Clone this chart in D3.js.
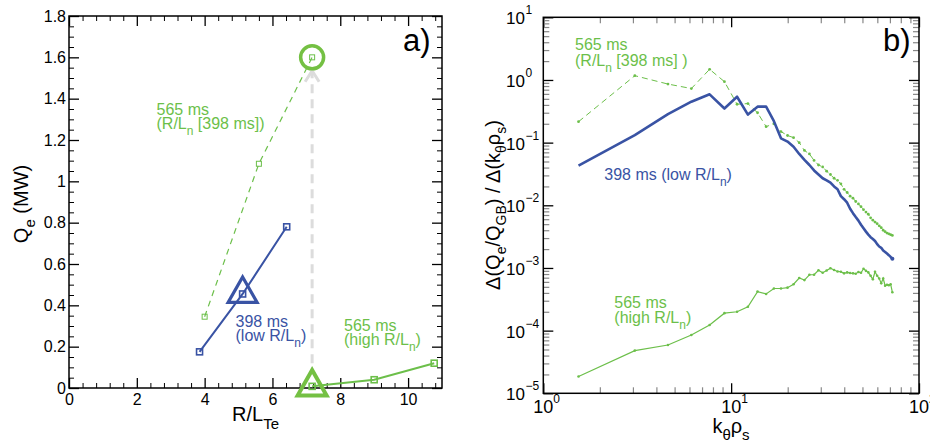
<!DOCTYPE html>
<html><head><meta charset="utf-8">
<script src="https://cdn.jsdelivr.net/npm/d3@7"></script>
<style>
body{margin:0;background:#fff;}
svg{display:block;font-family:"Liberation Sans",Arial,Helvetica,sans-serif;}
</style>
</head><body><svg id="c" width="930" height="444"></svg>
<script>
// ---------------- data: panel a ----------------
const rltX398 = [3.85, 5.12, 6.42];
const qe398 = [0.175, 0.455, 0.78];
const rltX565ln398 = [4.0, 5.6, 7.17];
const qe565ln398 = [0.345, 1.085, 1.60];
const rltX565 = [7.17, 9.0, 10.77];
const qe565 = [0.008, 0.04, 0.12];
const triangle398 = [5.12, 0.46];
const triangle565 = [7.17, 0.01];
const circle565 = [7.17, 1.60];
const arrowX = 7.17;
const arrowY = [0.12, 1.535];
const xTicksA = [0, 2, 4, 6, 8, 10];
const xTickLabelsA = ["0", "2", "4", "6", "8", "10"];
const yTicksA = [0, 0.2, 0.4, 0.6, 0.8, 1.0, 1.2, 1.4, 1.6, 1.8];
const yTickLabelsA = ["0", "0.2", "0.4", "0.6", "0.8", "1", "1.2", "1.4", "1.6", "1.8"];

// ---------------- data: panel b ----------------
const kRho = [1.54, 3.07, 4.61, 6.14, 7.68, 9.21, 10.75, 12.28, 13.82, 15.35,
  16.89, 18.42, 19.96, 21.49, 23.03, 24.56, 26.10, 27.63, 29.17, 30.70,
  32.24, 33.77, 35.31, 36.84, 38.38, 39.91, 41.45, 42.98, 44.52, 46.05,
  47.59, 49.12, 50.66, 52.19, 53.73, 55.26, 56.80, 58.33, 59.87, 61.40,
  62.94, 64.47, 66.01, 67.54, 69.08, 70.61, 72.15];
const spec398 = [0.043, 0.132, 0.285, 0.45, 0.59, 0.35, 0.54, 0.28, 0.375, 0.375,
  0.22, 0.117, 0.104, 0.086, 0.066, 0.053, 0.044, 0.036, 0.031, 0.027,
  0.025, 0.023, 0.020, 0.018, 0.014, 0.0125, 0.011, 0.0088, 0.0075, 0.0065,
  0.0057, 0.0049, 0.0043, 0.0038, 0.0034, 0.0031, 0.0029, 0.0027, 0.0024, 0.0022,
  0.0021, 0.0019, 0.0018, 0.0017, 0.0016, 0.0015, 0.0014];
const spec565ln398 = [0.216, 1.17, 0.86, 0.73, 1.48, 0.94, 0.41, 0.42, 0.30, 0.18,
  0.20, 0.15, 0.13, 0.12, 0.10, 0.075, 0.066, 0.052, 0.044, 0.041,
  0.035, 0.031, 0.027, 0.025, 0.022, 0.018, 0.016, 0.014, 0.013, 0.0115,
  0.0105, 0.0095, 0.0085, 0.0078, 0.0072, 0.0063, 0.0058, 0.0054, 0.0051, 0.0047,
  0.0044, 0.0040, 0.0038, 0.0036, 0.0035, 0.0034, 0.0033];
const spec565 = [1.85e-5, 4.8e-5, 5.9e-5, 8.5e-5, 1.23e-4, 1.9e-4, 2.0e-4, 2.4e-4, 4.2e-4, 3.85e-4,
  4.7e-4, 4.7e-4, 4.85e-4, 5.5e-4, 6.9e-4, 6.4e-4, 7.8e-4, 7.8e-4, 9.2e-4, 8.4e-4,
  9.1e-4, 9.9e-4, 9.3e-4, 8.8e-4, 8.7e-4, 8.2e-4, 8.5e-4, 8.3e-4, 8.2e-4, 8.1e-4,
  8.6e-4, 8.4e-4, 9.7e-4, 9.0e-4, 8.5e-4, 7.5e-4, 6.6e-4, 8.7e-4, 7.5e-4, 6.8e-4,
  5.7e-4, 6.8e-4, 5.2e-4, 5.4e-4, 5.3e-4, 5.5e-4, 4.1e-4];
const xDecadesB = [1, 10, 100];
const xExpLabelsB = ["0", "1", "2"];
const yDecadesB = [1e-5, 1e-4, 1e-3, 1e-2, 1e-1, 1, 10];
const yExpLabelsB = ["\u22125", "\u22124", "\u22123", "\u22122", "\u22121", "0", "1"];

// ---------------- style ----------------
const BLUE = "#3953a4";
const GREEN = "#6cbf4a";
const GREEN_BIG = "#74c043";
const GRAY = "#dcdcdc";

const svg = d3.select("#c");

function rich(sel, parts, size, subSize, shift) {
  let cur = 0;
  parts.forEach(p => {
    const target = p.sub ? shift : (p.sup ? -shift : 0);
    sel.append("tspan")
      .attr("dy", target - cur)
      .attr("font-size", (p.sub || p.sup) ? subSize : size)
      .text(p.t);
    cur = target;
  });
  return sel;
}

// ================= Panel a =================
const xa = d3.scaleLinear().domain([0, 11]).range([69, 442]);
const ya = d3.scaleLinear().domain([0, 1.8]).range([388, 16]);
const ga = svg.append("g");

const minorXA = d3.range(0, 11.001, 0.4).map(v => +v.toFixed(2)).filter(v => Math.abs(v / 2 - Math.round(v / 2)) > 1e-6);
const minorYA = d3.range(0, 1.8001, 0.05).map(v => +v.toFixed(3)).filter(v => Math.abs(v / 0.2 - Math.round(v / 0.2)) > 1e-6);

function styleAxis(g, color, width) {
  g.select(".domain").remove();
  g.selectAll(".tick line").attr("stroke", color).attr("stroke-width", width);
  g.selectAll(".tick text").attr("fill", "#000").attr("font-family", "Liberation Sans, Arial, sans-serif");
}
// bottom
ga.append("g").attr("transform", "translate(0,388)")
  .call(d3.axisBottom(xa).tickValues(xTicksA).tickSize(-10).tickPadding(6).tickFormat((d, i) => xTickLabelsA[i]))
  .call(g => { styleAxis(g, "#000", 1.3); g.selectAll("text").attr("font-size", 16); });
ga.append("g").attr("transform", "translate(0,388)")
  .call(d3.axisBottom(xa).tickValues(minorXA).tickSize(-5).tickFormat(""))
  .call(g => styleAxis(g, "#000", 1));
// top
ga.append("g").attr("transform", "translate(0,16)")
  .call(d3.axisTop(xa).tickValues(xTicksA).tickSize(-10).tickFormat(""))
  .call(g => styleAxis(g, "#000", 1.3));
ga.append("g").attr("transform", "translate(0,16)")
  .call(d3.axisTop(xa).tickValues(minorXA).tickSize(-5).tickFormat(""))
  .call(g => styleAxis(g, "#000", 1));
// left
ga.append("g").attr("transform", "translate(69,0)")
  .call(d3.axisLeft(ya).tickValues(yTicksA).tickSize(-10).tickPadding(3).tickFormat((d, i) => yTickLabelsA[i]))
  .call(g => { styleAxis(g, "#000", 1.3); g.selectAll("text").attr("font-size", 16); });
ga.append("g").attr("transform", "translate(69,0)")
  .call(d3.axisLeft(ya).tickValues(minorYA).tickSize(-5).tickFormat(""))
  .call(g => styleAxis(g, "#000", 1));
// right
ga.append("g").attr("transform", "translate(442,0)")
  .call(d3.axisRight(ya).tickValues(yTicksA).tickSize(-10).tickFormat(""))
  .call(g => styleAxis(g, "#000", 1.3));
ga.append("g").attr("transform", "translate(442,0)")
  .call(d3.axisRight(ya).tickValues(minorYA).tickSize(-5).tickFormat(""))
  .call(g => styleAxis(g, "#000", 1));
ga.append("rect").attr("x", 69).attr("y", 16).attr("width", 373).attr("height", 372)
  .attr("fill", "none").attr("stroke", "#000").attr("stroke-width", 1.5);

// grey arrow
ga.append("line").attr("x1", xa(arrowX)).attr("x2", xa(arrowX))
  .attr("y1", ya(arrowY[0])).attr("y2", ya(arrowY[1]))
  .attr("stroke", GRAY).attr("stroke-width", 3).attr("stroke-dasharray", "9,6");
ga.append("path")
  .attr("d", `M${xa(arrowX) - 7},${ya(arrowY[1]) + 11}L${xa(arrowX)},${ya(arrowY[1])}L${xa(arrowX) + 7},${ya(arrowY[1]) + 11}`)
  .attr("fill", "none").attr("stroke", GRAY).attr("stroke-width", 3);

const lineA = d3.line().x(d => xa(d[0])).y(d => ya(d[1]));
function seriesA(xs, ys, color, width, dash, sq, sqw) {
  const pts = xs.map((x, i) => [x, ys[i]]);
  ga.append("path").attr("d", lineA(pts)).attr("fill", "none").attr("stroke", color)
    .attr("stroke-width", width).attr("stroke-dasharray", dash);
  ga.selectAll(null).data(pts).enter().append("rect")
    .attr("x", d => xa(d[0]) - sq / 2).attr("y", d => ya(d[1]) - sq / 2)
    .attr("width", sq).attr("height", sq).attr("fill", "none")
    .attr("stroke", color).attr("stroke-width", sqw);
}
seriesA(rltX565ln398, qe565ln398, GREEN, 1.2, "6,5", 5, 1);
seriesA(rltX398, qe398, BLUE, 2, null, 6, 1.6);
seriesA(rltX565, qe565, GREEN, 2, null, 6, 1.6);

function triangle(pt, color, sw) {
  const cx = xa(pt[0]), cy = ya(pt[1]);
  ga.append("path").attr("d", `M${cx},${cy - 16}L${cx + 14.5},${cy + 9.5}L${cx - 14.5},${cy + 9.5}Z`)
    .attr("fill", "none").attr("stroke", color).attr("stroke-width", sw).attr("stroke-linejoin", "miter");
}
triangle(triangle398, BLUE, 3.2);
triangle(triangle565, GREEN_BIG, 4);
ga.append("circle").attr("cx", xa(circle565[0])).attr("cy", ya(circle565[1])).attr("r", 11.5)
  .attr("fill", "none").attr("stroke", GREEN_BIG).attr("stroke-width", 3.5);

// labels a
ga.append("text").attr("x", 403).attr("y", 51).attr("font-size", 31).text("a)");
ga.append("text").attr("x", 156.5).attr("y", 115).attr("font-size", 16).attr("fill", GREEN).text("565 ms");
rich(ga.append("text").attr("x", 156.5).attr("y", 129).attr("fill", GREEN),
  [{t: "(R/L"}, {t: "n", sub: true}, {t: " [398 ms])"}], 16, 12, 6);
ga.append("text").attr("x", 235.5).attr("y", 326.5).attr("font-size", 16).attr("fill", BLUE).text("398 ms");
rich(ga.append("text").attr("x", 235.5).attr("y", 340.5).attr("fill", BLUE),
  [{t: "(low R/L"}, {t: "n", sub: true}, {t: ")"}], 16, 12, 6);
ga.append("text").attr("x", 344).attr("y", 330.5).attr("font-size", 16).attr("fill", GREEN).text("565 ms");
rich(ga.append("text").attr("x", 344).attr("y", 344.5).attr("fill", GREEN),
  [{t: "(high R/L"}, {t: "n", sub: true}, {t: ")"}], 16, 12, 6);
rich(ga.append("text").attr("x", 255.5).attr("y", 421).attr("text-anchor", "middle"),
  [{t: "R/L"}, {t: "Te", sub: true}], 20, 15, 8);
rich(ga.append("text").attr("transform", "translate(28,204) rotate(-90)").attr("text-anchor", "middle"),
  [{t: "Q"}, {t: "e", sub: true}, {t: " (MW)"}], 20, 15, 7);

// ================= Panel b =================
const xb = d3.scaleLog().domain([1, 100]).range([543.3, 919]);
const yb = d3.scaleLog().domain([1e-5, 10]).range([393.3, 17.3]);
const gb = svg.append("g");

const minorXB = [], minorYB = [];
[1, 10].forEach(d => { for (let m = 2; m <= 9; m++) minorXB.push(d * m); });
[1e-5, 1e-4, 1e-3, 1e-2, 1e-1, 1].forEach(d => { for (let m = 2; m <= 9; m++) minorYB.push(d * m); });

gb.append("g").attr("transform", "translate(0,393.3)")
  .call(d3.axisBottom(xb).tickValues(xDecadesB).tickSize(-10).tickFormat(""))
  .call(g => styleAxis(g, "#000", 1.3));
gb.append("g").attr("transform", "translate(0,393.3)")
  .call(d3.axisBottom(xb).tickValues(minorXB).tickSize(-6).tickFormat(""))
  .call(g => styleAxis(g, "#888", 1.2));
gb.append("g").attr("transform", "translate(0,17.3)")
  .call(d3.axisTop(xb).tickValues(xDecadesB).tickSize(-10).tickFormat(""))
  .call(g => styleAxis(g, "#000", 1.3));
gb.append("g").attr("transform", "translate(0,17.3)")
  .call(d3.axisTop(xb).tickValues(minorXB).tickSize(-6).tickFormat(""))
  .call(g => styleAxis(g, "#888", 1.2));
gb.append("g").attr("transform", "translate(543.3,0)")
  .call(d3.axisLeft(yb).tickValues(yDecadesB).tickSize(-10).tickFormat(""))
  .call(g => styleAxis(g, "#000", 1.3));
gb.append("g").attr("transform", "translate(543.3,0)")
  .call(d3.axisLeft(yb).tickValues(minorYB).tickSize(-6).tickFormat(""))
  .call(g => styleAxis(g, "#888", 1.2));
gb.append("g").attr("transform", "translate(919,0)")
  .call(d3.axisRight(yb).tickValues(yDecadesB).tickSize(-10).tickFormat(""))
  .call(g => styleAxis(g, "#000", 1.3));
gb.append("g").attr("transform", "translate(919,0)")
  .call(d3.axisRight(yb).tickValues(minorYB).tickSize(-6).tickFormat(""))
  .call(g => styleAxis(g, "#888", 1.2));
gb.append("rect").attr("x", 543.3).attr("y", 17.3).attr("width", 919 - 543.3).attr("height", 393.3 - 17.3)
  .attr("fill", "none").attr("stroke", "#000").attr("stroke-width", 1.5);

// tick labels b
xDecadesB.forEach((d, i) => {
  gb.append("text").attr("x", xb(d)).attr("y", 413).attr("text-anchor", "middle").attr("font-size", 18).text("10");
  gb.append("text").attr("x", xb(d) + 10).attr("y", 403).attr("font-size", 12).text(xExpLabelsB[i]);
});
yDecadesB.forEach((d, i) => {
  gb.append("text").attr("x", 525).attr("y", yb(d) + 7).attr("text-anchor", "end").attr("font-size", 17).text("10");
  gb.append("text").attr("x", 525.5).attr("y", yb(d) - 3).attr("font-size", 12).text(yExpLabelsB[i]);
});

// series b
const lineB = d3.line().x(d => xb(d[0])).y(d => yb(d[1]));
const pts565ln = kRho.map((k, i) => [k, spec565ln398[i]]);
const pts398 = kRho.map((k, i) => [k, spec398[i]]);
const pts565 = kRho.map((k, i) => [k, spec565[i]]);

gb.append("path").attr("d", lineB(pts565ln)).attr("fill", "none").attr("stroke", GREEN)
  .attr("stroke-width", 1).attr("stroke-dasharray", "6,4");
gb.selectAll(null).data(pts565ln).enter().append("circle")
  .attr("cx", d => xb(d[0])).attr("cy", d => yb(d[1])).attr("r", 1.4).attr("fill", GREEN);
gb.append("path").attr("d", lineB(pts398)).attr("fill", "none").attr("stroke", BLUE)
  .attr("stroke-width", 2.6).attr("stroke-linejoin", "round");
gb.append("circle").attr("cx", xb(pts398[pts398.length - 1][0])).attr("cy", yb(pts398[pts398.length - 1][1]))
  .attr("r", 2).attr("fill", BLUE);
gb.append("path").attr("d", lineB(pts565)).attr("fill", "none").attr("stroke", GREEN)
  .attr("stroke-width", 1.2);
gb.selectAll(null).data(pts565).enter().append("circle")
  .attr("cx", d => xb(d[0])).attr("cy", d => yb(d[1])).attr("r", 1.3).attr("fill", GREEN);

// labels b
gb.append("text").attr("x", 883).attr("y", 51).attr("font-size", 31).text("b)");
gb.append("text").attr("x", 575).attr("y", 50).attr("font-size", 16).attr("fill", GREEN).text("565 ms");
rich(gb.append("text").attr("x", 575).attr("y", 65.5).attr("fill", GREEN),
  [{t: "(R/L"}, {t: "n", sub: true}, {t: " [398 ms] )"}], 16, 12, 6);
rich(gb.append("text").attr("x", 604.3).attr("y", 180).attr("fill", BLUE),
  [{t: "398 ms (low R/L"}, {t: "n", sub: true}, {t: ")"}], 16, 12, 6);
gb.append("text").attr("x", 614.3).attr("y", 308.3).attr("font-size", 16).attr("fill", GREEN).text("565 ms");
rich(gb.append("text").attr("x", 614.3).attr("y", 323.3).attr("fill", GREEN),
  [{t: "(high R/L"}, {t: "n", sub: true}, {t: ")"}], 16, 12, 6);
rich(gb.append("text").attr("x", 731).attr("y", 433).attr("text-anchor", "middle"),
  [{t: "k"}, {t: "\u03b8", sub: true}, {t: "\u03c1"}, {t: "s", sub: true}], 20, 15, 7);
rich(gb.append("text").attr("transform", "translate(500,205) rotate(-90)").attr("text-anchor", "middle"),
  [{t: "\u0394(Q"}, {t: "e", sub: true}, {t: "/Q"}, {t: "GB", sub: true}, {t: ") / \u0394(k"}, {t: "\u03b8", sub: true}, {t: "\u03c1"}, {t: "s", sub: true}, {t: ")"}], 20, 14, 6);
</script>
</body></html>
